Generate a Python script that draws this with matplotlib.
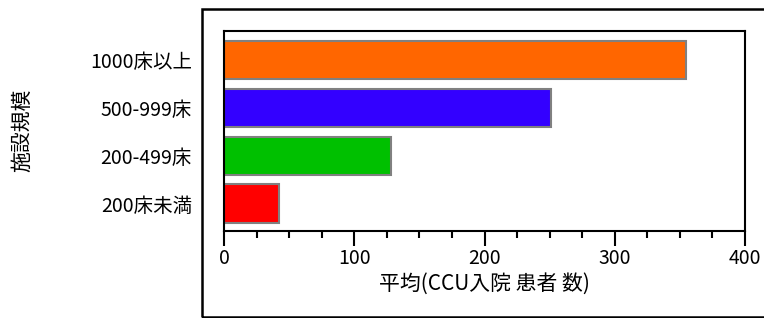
import matplotlib
matplotlib.use("Agg")
import matplotlib.pyplot as plt
from matplotlib.patches import Rectangle
from matplotlib.ticker import MultipleLocator

plt.rcParams['font.family'] = ['Noto Sans CJK JP', 'DejaVu Sans']

categories = ["200床未満", "200-499床", "500-999床", "1000床以上"]
values = [42, 128, 251, 355]
colors = ["#ff0000", "#00c000", "#3300ff", "#ff6600"]
x_ticks = [0, 100, 200, 300, 400]
xlabel = "平均(CCU入院 患者 数)"
ylabel = "施設規模"

W, H = 764, 318
fig = plt.figure(figsize=(W / 100, H / 100), dpi=100)

# outer frame
fig.patches.append(Rectangle((202 / W, 1 - 317 / H), (770 - 202) / W, (317 - 9) / H,
                             transform=fig.transFigure, fill=False,
                             edgecolor="black", linewidth=1.8, clip_on=False))

ax = fig.add_axes([224 / W, 1 - 231 / H, (745 - 224) / W, (231 - 31) / H])
pos = list(range(len(categories)))
ax.barh(pos, values, height=0.8, color=colors, edgecolor="#808080", linewidth=1.5)
ax.set_xlim(0, 400)
ax.set_ylim(-0.574, 3.605)
ax.set_xticks(x_ticks)
ax.set_xticklabels([str(t) for t in x_ticks], fontsize=14)
ax.xaxis.set_minor_locator(MultipleLocator(25))
ax.tick_params(axis="x", which="major", length=11, width=1.5, direction="out", pad=1)
ax.tick_params(axis="x", which="minor", length=5, width=1.5, direction="out")
ax.set_yticks(pos)
ax.set_yticklabels(categories, fontsize=14)
ax.tick_params(axis="y", length=0, pad=23)
for s in ax.spines.values():
    s.set_linewidth(1.5)
ax.set_xlabel(xlabel, fontsize=15, labelpad=3)
fig.text(22 / W, 1 - 130 / H, ylabel, rotation=90, fontsize=15, ha="center", va="center")

fig.savefig("out.png", dpi=100)
